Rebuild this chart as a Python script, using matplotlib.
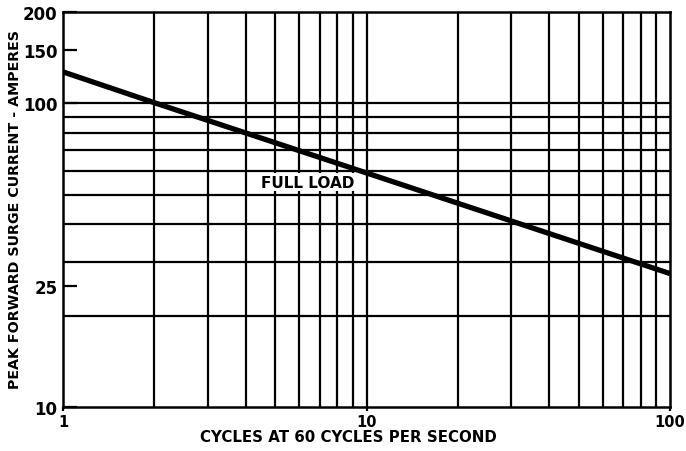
import matplotlib
matplotlib.use("Agg")
import matplotlib.pyplot as plt
from matplotlib.ticker import FixedLocator, NullFormatter, NullLocator

# Data
cycles = [1, 2, 10, 100]
peak_current = [127, 100.5, 59, 27.5]

x_grid = [2, 3, 4, 5, 6, 7, 8, 9, 10, 20, 30, 40, 50, 60, 70, 80, 90]
y_grid = [20, 30, 40, 50, 60, 70, 80, 90, 100]
y_ticks = [10, 25, 100, 150, 200]
y_tick_labels = ["10", "25", "100", "150", "200"]
x_ticks = [1, 10, 100]
x_tick_labels = ["1", "10", "100"]

plt.rcParams['font.family'] = ['DejaVu Sans']
fig = plt.figure(figsize=(6.86, 4.52), dpi=100)
ax = fig.add_axes([0.0918, 0.0973, 0.885, 0.874])
ax.set_xscale('log')
ax.set_yscale('log')
ax.set_xlim(1, 100)
ax.set_ylim(10, 200)

for xv in x_grid:
    ax.axvline(xv, color='black', lw=1.6, zorder=1)
for yv in y_grid:
    ax.axhline(yv, color='black', lw=1.6, zorder=1)

ax.plot(cycles, peak_current, color='black', lw=3.8, solid_capstyle='butt', zorder=3)

ax.text(4.5, 55, "FULL LOAD", fontsize=11, fontweight='bold', ha='left', va='center',
        bbox=dict(facecolor='white', edgecolor='none', pad=1.0), zorder=4)

ax.xaxis.set_major_locator(FixedLocator(x_ticks))
ax.xaxis.set_minor_locator(NullLocator())
ax.xaxis.set_minor_formatter(NullFormatter())
ax.set_xticklabels(x_tick_labels)
ax.yaxis.set_major_locator(FixedLocator(y_ticks))
ax.yaxis.set_minor_locator(NullLocator())
ax.yaxis.set_minor_formatter(NullFormatter())
ax.set_yticklabels(y_tick_labels)
ax.tick_params(axis='y', direction='in', length=10, width=1.6, pad=4, labelsize=12)
ax.tick_params(axis='x', direction='out', length=3, width=1.6, pad=2, labelsize=10.5)
for lbl in ax.get_xticklabels() + ax.get_yticklabels():
    lbl.set_fontweight('bold')

for s in ax.spines.values():
    s.set_linewidth(1.8)

fig.text(348 / 686, 1 - 438 / 452, "CYCLES AT 60 CYCLES PER SECOND", fontsize=10.8,
         fontweight='bold', ha='center', va='center')
fig.text(15 / 686, 0.5 + (226 - 210) / 452, "PEAK FORWARD SURGE CURRENT - AMPERES",
         fontsize=10.3, fontweight='bold', ha='center', va='center', rotation=90)

fig.savefig("out.png", dpi=100)
